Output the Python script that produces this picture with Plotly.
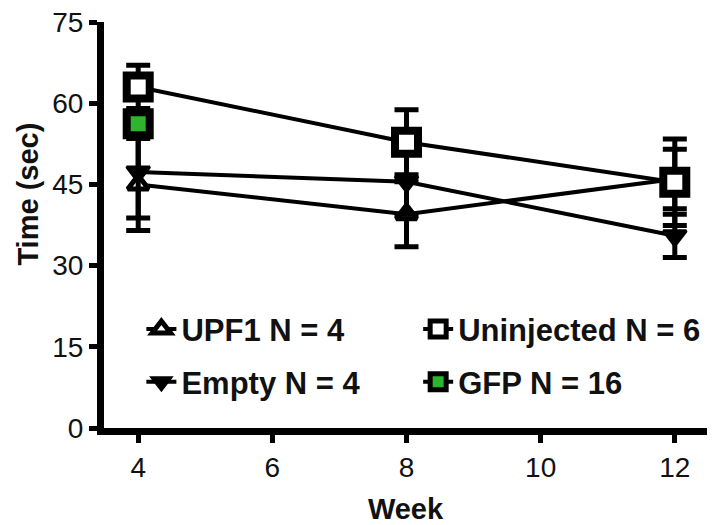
import plotly.graph_objects as go

weeks = [4, 8, 12]

upf1_mean = [45.0, 39.5, 46.0]
upf1_err = [8.5, 6.0, 5.5]

empty_mean = [47.3, 45.5, 35.5]
empty_err = [8.5, 6.0, 4.0]

unin_mean = [63.0, 52.8, 45.4]
unin_err = [4.0, 6.0, 8.0]

gfp_weeks = [4]
gfp_mean = [56.2]
gfp_err = [2.0]

y_ticks = [0, 15, 30, 45, 60, 75]
x_ticks = [4, 6, 8, 10, 12]

BLACK = "#000000"
GREEN = "#2db52d"
FONT = "Liberation Sans, Arial, sans-serif"
TXT = "#111111"

def err(vals):
    return dict(type="data", array=vals, visible=True, color=BLACK,
                thickness=5, width=12)

fig = go.Figure()

fig.add_trace(go.Scatter(
    x=weeks, y=upf1_mean, error_y=err(upf1_err), mode="lines+markers",
    name="UPF1 N = 4", legend="legend",
    line=dict(color=BLACK, width=4),
    marker=dict(symbol="triangle-up", size=18, color="white",
                line=dict(color=BLACK, width=5))))

fig.add_trace(go.Scatter(
    x=weeks, y=empty_mean, error_y=err(empty_err), mode="lines+markers",
    name="Empty N = 4", legend="legend3",
    line=dict(color=BLACK, width=4),
    marker=dict(symbol="triangle-down", size=20, color=BLACK,
                line=dict(color=BLACK, width=3))))

fig.add_trace(go.Scatter(
    x=weeks, y=unin_mean, error_y=err(unin_err), mode="lines+markers",
    name="Uninjected N = 6", legend="legend2",
    line=dict(color=BLACK, width=4),
    marker=dict(symbol="square", size=23, color="white",
                line=dict(color=BLACK, width=8))))

fig.add_trace(go.Scatter(
    x=gfp_weeks, y=gfp_mean, error_y=err(gfp_err), mode="lines+markers",
    name="GFP N = 16", legend="legend4",
    line=dict(color=BLACK, width=4),
    marker=dict(symbol="square", size=23, color=GREEN,
                line=dict(color=BLACK, width=8))))

leg_common = dict(
    orientation="v", xanchor="left", yanchor="middle",
    font=dict(family=FONT, size=31, color=TXT, weight="bold"),
    bgcolor="rgba(0,0,0,0)",
)

col1, col2 = 0.062, 0.521
row1, row2 = 0.243, 0.113

fig.update_layout(
    width=718, height=517,
    paper_bgcolor="white", plot_bgcolor="white",
    margin=dict(l=96, r=19, t=14, b=97, autoexpand=False),
    font=dict(family=FONT, color=TXT, size=28),
    showlegend=True,
    legend=dict(x=col1, y=row1, **leg_common),
    legend2=dict(x=col2, y=row1, **leg_common),
    legend3=dict(x=col1, y=row2, **leg_common),
    legend4=dict(x=col2, y=row2, **leg_common),
    xaxis=dict(
        range=[3.49, 12.48], tickvals=x_ticks, ticktext=[str(v) for v in x_ticks],
        showgrid=False, zeroline=False,
        showline=True, linecolor=BLACK, linewidth=7,
        ticks="outside", ticklen=8, tickwidth=5, tickcolor=BLACK,
        tickfont=dict(size=28, family=FONT, color=TXT),
        ticklabeloverflow="allow",
        title=dict(text="<b>Week</b>", font=dict(size=29, family=FONT, color=TXT),
                   standoff=20),
    ),
    yaxis=dict(
        range=[0, 75], tickvals=y_ticks, ticktext=[str(v) for v in y_ticks],
        showgrid=False, zeroline=False,
        showline=True, linecolor=BLACK, linewidth=7,
        ticks="outside", ticklen=8, tickwidth=5, tickcolor=BLACK,
        tickfont=dict(size=28, family=FONT, color=TXT),
        ticklabeloverflow="allow",
    ),
    annotations=[dict(
        text="<b>Time (sec)</b>", textangle=-90,
        xref="paper", yref="paper", x=-0.126, y=0.575,
        xanchor="center", yanchor="middle", showarrow=False,
        font=dict(size=29, family=FONT, color=TXT),
    )],
)

fig.write_html("out.html")
